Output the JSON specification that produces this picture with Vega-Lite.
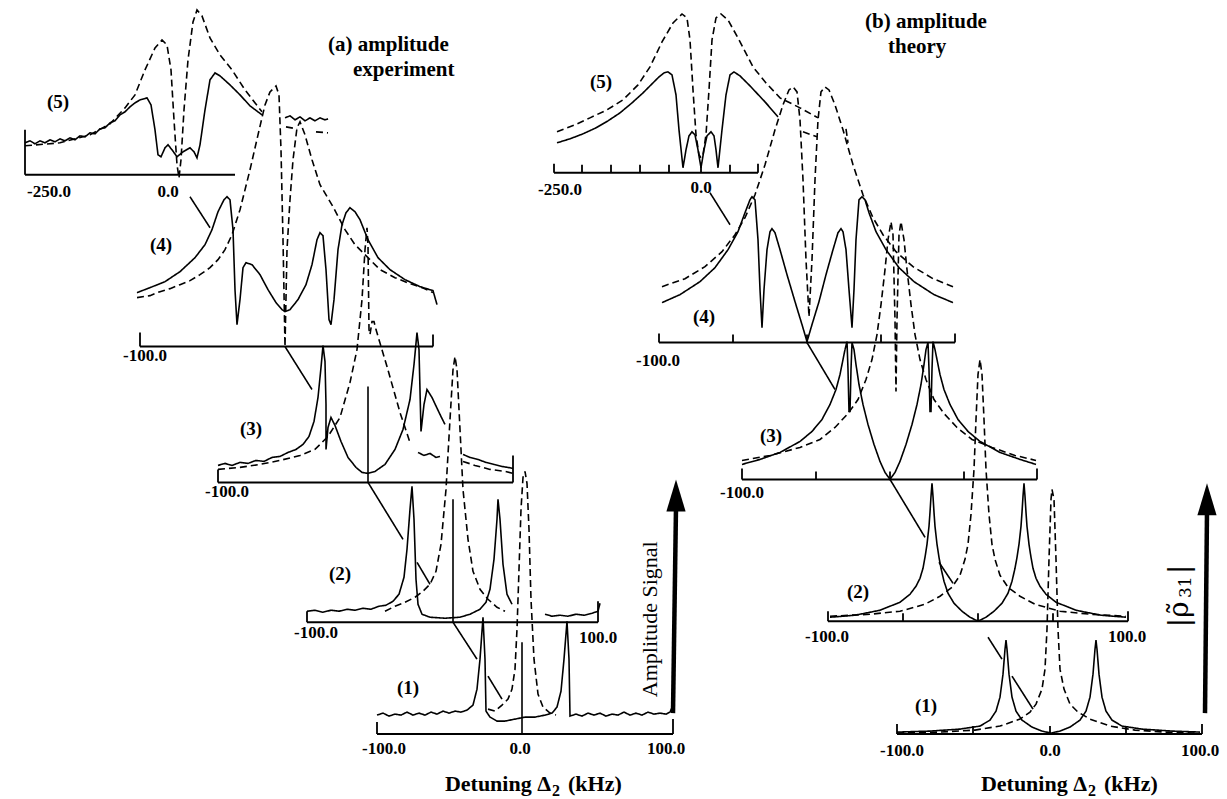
{
"$schema":"https://vega.github.io/schema/vega-lite/v6.json",
"width":1227,"height":799,
"autosize":{"type":"fit","contains":"padding"},
"padding":0,
"background":"white",
"config":{"view":{"stroke":null}},
"encoding":{
 "x":{"field":"x","type":"quantitative","scale":{"domain":[0,1227]},"axis":null},
 "y":{"field":"y","type":"quantitative","scale":{"domain":[0,799],"reverse":true},"axis":null}
},
"datasets":{
"curves":[
{"s":"a5s","k":"solid","x":25,"y":143},{"s":"a5s","k":"solid","x":30,"y":141},{"s":"a5s","k":"solid","x":35,"y":144},{"s":"a5s","k":"solid","x":40,"y":141},{"s":"a5s","k":"solid","x":45,"y":143},{"s":"a5s","k":"solid","x":50,"y":140},{"s":"a5s","k":"solid","x":55,"y":142},{"s":"a5s","k":"solid","x":60,"y":139},{"s":"a5s","k":"solid","x":65,"y":141},{"s":"a5s","k":"solid","x":70,"y":138},{"s":"a5s","k":"solid","x":75,"y":140},{"s":"a5s","k":"solid","x":80,"y":136},{"s":"a5s","k":"solid","x":85,"y":137},{"s":"a5s","k":"solid","x":90,"y":133},{"s":"a5s","k":"solid","x":95,"y":134},{"s":"a5s","k":"solid","x":100,"y":129},{"s":"a5s","k":"solid","x":105,"y":128},{"s":"a5s","k":"solid","x":110,"y":123},{"s":"a5s","k":"solid","x":115,"y":121},{"s":"a5s","k":"solid","x":120,"y":115},{"s":"a5s","k":"solid","x":125,"y":112},{"s":"a5s","k":"solid","x":130,"y":107},{"s":"a5s","k":"solid","x":135,"y":103},{"s":"a5s","k":"solid","x":140,"y":100},{"s":"a5s","k":"solid","x":147,"y":98},{"s":"a5s","k":"solid","x":151,"y":105},{"s":"a5s","k":"solid","x":155,"y":130},{"s":"a5s","k":"solid","x":158,"y":155},{"s":"a5s","k":"solid","x":161,"y":157},{"s":"a5s","k":"solid","x":165,"y":148},{"s":"a5s","k":"solid","x":168,"y":145},{"s":"a5s","k":"solid","x":172,"y":150},{"s":"a5s","k":"solid","x":177,"y":157},{"s":"a5s","k":"solid","x":183,"y":152},{"s":"a5s","k":"solid","x":190,"y":148},{"s":"a5s","k":"solid","x":194,"y":152},{"s":"a5s","k":"solid","x":197,"y":158},{"s":"a5s","k":"solid","x":200,"y":145},{"s":"a5s","k":"solid","x":205,"y":110},{"s":"a5s","k":"solid","x":210,"y":80},{"s":"a5s","k":"solid","x":215,"y":73},{"s":"a5s","k":"solid","x":220,"y":76},{"s":"a5s","k":"solid","x":230,"y":85},{"s":"a5s","k":"solid","x":240,"y":95},{"s":"a5s","k":"solid","x":250,"y":106},{"s":"a5s","k":"solid","x":262,"y":115},
{"s":"a5d","k":"dashed","x":25,"y":146},{"s":"a5d","k":"dashed","x":60,"y":143},{"s":"a5d","k":"dashed","x":90,"y":135},{"s":"a5d","k":"dashed","x":110,"y":124},{"s":"a5d","k":"dashed","x":125,"y":108},{"s":"a5d","k":"dashed","x":135,"y":95},{"s":"a5d","k":"dashed","x":145,"y":70},{"s":"a5d","k":"dashed","x":155,"y":48},{"s":"a5d","k":"dashed","x":162,"y":40},{"s":"a5d","k":"dashed","x":167,"y":45},{"s":"a5d","k":"dashed","x":171,"y":70},{"s":"a5d","k":"dashed","x":174,"y":120},{"s":"a5d","k":"dashed","x":177,"y":165},{"s":"a5d","k":"dashed","x":179,"y":178},{"s":"a5d","k":"dashed","x":181,"y":160},{"s":"a5d","k":"dashed","x":184,"y":110},{"s":"a5d","k":"dashed","x":188,"y":60},{"s":"a5d","k":"dashed","x":193,"y":22},{"s":"a5d","k":"dashed","x":197,"y":10},{"s":"a5d","k":"dashed","x":202,"y":16},{"s":"a5d","k":"dashed","x":210,"y":38},{"s":"a5d","k":"dashed","x":220,"y":55},{"s":"a5d","k":"dashed","x":232,"y":70},{"s":"a5d","k":"dashed","x":245,"y":90},{"s":"a5d","k":"dashed","x":262,"y":112},
{"s":"a5t","k":"solid","x":285,"y":118},{"s":"a5t","k":"solid","x":290,"y":116},{"s":"a5t","k":"solid","x":295,"y":120},{"s":"a5t","k":"solid","x":300,"y":117},{"s":"a5t","k":"solid","x":305,"y":121},{"s":"a5t","k":"solid","x":310,"y":118},{"s":"a5t","k":"solid","x":315,"y":121},{"s":"a5t","k":"solid","x":320,"y":118},{"s":"a5t","k":"solid","x":325,"y":120},{"s":"a5t","k":"solid","x":328,"y":119},
{"s":"a5u","k":"dashed","x":286,"y":127},{"s":"a5u","k":"dashed","x":297,"y":129},
{"s":"a5v","k":"dashed","x":316,"y":132},{"s":"a5v","k":"dashed","x":328,"y":133},
{"s":"a4s","k":"solid","x":137,"y":293},{"s":"a4s","k":"solid","x":150,"y":288},{"s":"a4s","k":"solid","x":165,"y":282},{"s":"a4s","k":"solid","x":180,"y":272},{"s":"a4s","k":"solid","x":195,"y":258},{"s":"a4s","k":"solid","x":205,"y":245},{"s":"a4s","k":"solid","x":212,"y":230},{"s":"a4s","k":"solid","x":218,"y":212},{"s":"a4s","k":"solid","x":224,"y":200},{"s":"a4s","k":"solid","x":227,"y":197},{"s":"a4s","k":"solid","x":230,"y":200},{"s":"a4s","k":"solid","x":233,"y":230},{"s":"a4s","k":"solid","x":235,"y":290},{"s":"a4s","k":"solid","x":237,"y":325},{"s":"a4s","k":"solid","x":240,"y":300},{"s":"a4s","k":"solid","x":243,"y":268},{"s":"a4s","k":"solid","x":246,"y":263},{"s":"a4s","k":"solid","x":252,"y":265},{"s":"a4s","k":"solid","x":260,"y":275},{"s":"a4s","k":"solid","x":268,"y":290},{"s":"a4s","k":"solid","x":276,"y":303},{"s":"a4s","k":"solid","x":282,"y":310},{"s":"a4s","k":"solid","x":285,"y":312},{"s":"a4s","k":"solid","x":290,"y":310},{"s":"a4s","k":"solid","x":298,"y":300},{"s":"a4s","k":"solid","x":306,"y":285},{"s":"a4s","k":"solid","x":312,"y":265},{"s":"a4s","k":"solid","x":317,"y":240},{"s":"a4s","k":"solid","x":320,"y":233},{"s":"a4s","k":"solid","x":323,"y":236},{"s":"a4s","k":"solid","x":326,"y":270},{"s":"a4s","k":"solid","x":329,"y":320},{"s":"a4s","k":"solid","x":331,"y":325},{"s":"a4s","k":"solid","x":334,"y":300},{"s":"a4s","k":"solid","x":338,"y":250},{"s":"a4s","k":"solid","x":342,"y":225},{"s":"a4s","k":"solid","x":346,"y":213},{"s":"a4s","k":"solid","x":350,"y":208},{"s":"a4s","k":"solid","x":355,"y":212},{"s":"a4s","k":"solid","x":360,"y":220},{"s":"a4s","k":"solid","x":368,"y":240},{"s":"a4s","k":"solid","x":378,"y":258},{"s":"a4s","k":"solid","x":390,"y":270},{"s":"a4s","k":"solid","x":405,"y":280},{"s":"a4s","k":"solid","x":420,"y":287},{"s":"a4s","k":"solid","x":433,"y":291},{"s":"a4s","k":"solid","x":437,"y":305},
{"s":"a4d","k":"dashed","x":137,"y":298},{"s":"a4d","k":"dashed","x":150,"y":296},{"s":"a4d","k":"dashed","x":160,"y":292},{"s":"a4d","k":"dashed","x":170,"y":289},{"s":"a4d","k":"dashed","x":180,"y":285},{"s":"a4d","k":"dashed","x":190,"y":281},{"s":"a4d","k":"dashed","x":200,"y":275},{"s":"a4d","k":"dashed","x":210,"y":268},{"s":"a4d","k":"dashed","x":218,"y":260},{"s":"a4d","k":"dashed","x":225,"y":250},{"s":"a4d","k":"dashed","x":232,"y":235},{"s":"a4d","k":"dashed","x":240,"y":210},{"s":"a4d","k":"dashed","x":250,"y":170},{"s":"a4d","k":"dashed","x":258,"y":135},{"s":"a4d","k":"dashed","x":265,"y":105},{"s":"a4d","k":"dashed","x":270,"y":92},{"s":"a4d","k":"dashed","x":276,"y":86},{"s":"a4d","k":"dashed","x":279,"y":95},{"s":"a4d","k":"dashed","x":281,"y":150},{"s":"a4d","k":"dashed","x":283,"y":240},{"s":"a4d","k":"dashed","x":285,"y":347},{"s":"a4d","k":"dashed","x":287,"y":250},{"s":"a4d","k":"dashed","x":290,"y":200},{"s":"a4d","k":"dashed","x":293,"y":160},{"s":"a4d","k":"dashed","x":297,"y":128},{"s":"a4d","k":"dashed","x":300,"y":122},{"s":"a4d","k":"dashed","x":305,"y":135},{"s":"a4d","k":"dashed","x":312,"y":160},{"s":"a4d","k":"dashed","x":320,"y":185},{"s":"a4d","k":"dashed","x":333,"y":207},{"s":"a4d","k":"dashed","x":345,"y":230},{"s":"a4d","k":"dashed","x":355,"y":245},{"s":"a4d","k":"dashed","x":368,"y":258},{"s":"a4d","k":"dashed","x":380,"y":270},{"s":"a4d","k":"dashed","x":395,"y":278},{"s":"a4d","k":"dashed","x":410,"y":284},{"s":"a4d","k":"dashed","x":422,"y":288},{"s":"a4d","k":"dashed","x":433,"y":293},
{"s":"a3s","k":"solid","x":218,"y":466},{"s":"a3s","k":"solid","x":225,"y":464},{"s":"a3s","k":"solid","x":232,"y":466},{"s":"a3s","k":"solid","x":240,"y":463},{"s":"a3s","k":"solid","x":248,"y":464},{"s":"a3s","k":"solid","x":256,"y":461},{"s":"a3s","k":"solid","x":264,"y":462},{"s":"a3s","k":"solid","x":272,"y":458},{"s":"a3s","k":"solid","x":280,"y":457},{"s":"a3s","k":"solid","x":288,"y":453},{"s":"a3s","k":"solid","x":296,"y":450},{"s":"a3s","k":"solid","x":303,"y":445},{"s":"a3s","k":"solid","x":309,"y":437},{"s":"a3s","k":"solid","x":314,"y":422},{"s":"a3s","k":"solid","x":318,"y":398},{"s":"a3s","k":"solid","x":321,"y":368},{"s":"a3s","k":"solid","x":323,"y":346},{"s":"a3s","k":"solid","x":325,"y":362},{"s":"a3s","k":"solid","x":326,"y":405},{"s":"a3s","k":"solid","x":326,"y":450},{"s":"a3s","k":"solid","x":328,"y":428},{"s":"a3s","k":"solid","x":331,"y":418},{"s":"a3s","k":"solid","x":335,"y":426},{"s":"a3s","k":"solid","x":341,"y":442},{"s":"a3s","k":"solid","x":348,"y":458},{"s":"a3s","k":"solid","x":356,"y":468},{"s":"a3s","k":"solid","x":362,"y":473},{"s":"a3s","k":"solid","x":368,"y":474},{"s":"a3s","k":"solid","x":375,"y":472},{"s":"a3s","k":"solid","x":385,"y":465},{"s":"a3s","k":"solid","x":395,"y":450},{"s":"a3s","k":"solid","x":403,"y":430},{"s":"a3s","k":"solid","x":410,"y":400},{"s":"a3s","k":"solid","x":414,"y":365},{"s":"a3s","k":"solid","x":417,"y":333},{"s":"a3s","k":"solid","x":419,"y":350},{"s":"a3s","k":"solid","x":421,"y":432},{"s":"a3s","k":"solid","x":424,"y":405},{"s":"a3s","k":"solid","x":427,"y":390},{"s":"a3s","k":"solid","x":432,"y":398},{"s":"a3s","k":"solid","x":440,"y":415},{"s":"a3s","k":"solid","x":445,"y":425},
{"s":"a3t","k":"solid","x":418,"y":453},{"s":"a3t","k":"solid","x":424,"y":456},{"s":"a3t","k":"solid","x":430,"y":454},{"s":"a3t","k":"solid","x":436,"y":458},{"s":"a3t","k":"solid","x":440,"y":457},
{"s":"a3u","k":"solid","x":463,"y":455},{"s":"a3u","k":"solid","x":470,"y":458},{"s":"a3u","k":"solid","x":478,"y":460},{"s":"a3u","k":"solid","x":486,"y":463},{"s":"a3u","k":"solid","x":494,"y":465},{"s":"a3u","k":"solid","x":502,"y":467},{"s":"a3u","k":"solid","x":508,"y":468},{"s":"a3u","k":"solid","x":513,"y":469},
{"s":"a3v","k":"dashed","x":463,"y":462},{"s":"a3v","k":"dashed","x":475,"y":466},{"s":"a3v","k":"dashed","x":490,"y":470},{"s":"a3v","k":"dashed","x":505,"y":472},{"s":"a3v","k":"dashed","x":513,"y":474},
{"s":"a3d","k":"dashed","x":218,"y":470},{"s":"a3d","k":"dashed","x":240,"y":468},{"s":"a3d","k":"dashed","x":260,"y":465},{"s":"a3d","k":"dashed","x":280,"y":461},{"s":"a3d","k":"dashed","x":300,"y":456},{"s":"a3d","k":"dashed","x":315,"y":450},{"s":"a3d","k":"dashed","x":328,"y":437},{"s":"a3d","k":"dashed","x":340,"y":418},{"s":"a3d","k":"dashed","x":350,"y":383},{"s":"a3d","k":"dashed","x":357,"y":350},{"s":"a3d","k":"dashed","x":362,"y":300},{"s":"a3d","k":"dashed","x":365,"y":250},{"s":"a3d","k":"dashed","x":367,"y":228},{"s":"a3d","k":"dashed","x":368,"y":245},{"s":"a3d","k":"dashed","x":369,"y":330},{"s":"a3d","k":"dashed","x":370,"y":335},{"s":"a3d","k":"dashed","x":372,"y":322},{"s":"a3d","k":"dashed","x":374,"y":322},{"s":"a3d","k":"dashed","x":376,"y":330},{"s":"a3d","k":"dashed","x":387,"y":367},{"s":"a3d","k":"dashed","x":400,"y":413},{"s":"a3d","k":"dashed","x":410,"y":443},
{"s":"a2s","k":"solid","x":307,"y":612},{"s":"a2s","k":"solid","x":315,"y":611},{"s":"a2s","k":"solid","x":323,"y":613},{"s":"a2s","k":"solid","x":331,"y":611},{"s":"a2s","k":"solid","x":339,"y":612},{"s":"a2s","k":"solid","x":347,"y":610},{"s":"a2s","k":"solid","x":355,"y":611},{"s":"a2s","k":"solid","x":363,"y":609},{"s":"a2s","k":"solid","x":371,"y":610},{"s":"a2s","k":"solid","x":379,"y":607},{"s":"a2s","k":"solid","x":386,"y":606},{"s":"a2s","k":"solid","x":393,"y":602},{"s":"a2s","k":"solid","x":399,"y":595},{"s":"a2s","k":"solid","x":404,"y":578},{"s":"a2s","k":"solid","x":407,"y":550},{"s":"a2s","k":"solid","x":410,"y":510},{"s":"a2s","k":"solid","x":412,"y":487},{"s":"a2s","k":"solid","x":414,"y":520},{"s":"a2s","k":"solid","x":416,"y":580},{"s":"a2s","k":"solid","x":418,"y":605},{"s":"a2s","k":"solid","x":422,"y":615},{"s":"a2s","k":"solid","x":430,"y":618},{"s":"a2s","k":"solid","x":445,"y":619},{"s":"a2s","k":"solid","x":460,"y":618},{"s":"a2s","k":"solid","x":470,"y":615},{"s":"a2s","k":"solid","x":480,"y":610},{"s":"a2s","k":"solid","x":486,"y":603},{"s":"a2s","k":"solid","x":490,"y":590},{"s":"a2s","k":"solid","x":494,"y":560},{"s":"a2s","k":"solid","x":497,"y":520},{"s":"a2s","k":"solid","x":498,"y":500},{"s":"a2s","k":"solid","x":500,"y":520},{"s":"a2s","k":"solid","x":503,"y":565},{"s":"a2s","k":"solid","x":507,"y":595},{"s":"a2s","k":"solid","x":512,"y":605},
{"s":"a2t","k":"solid","x":545,"y":615},{"s":"a2t","k":"solid","x":552,"y":617},{"s":"a2t","k":"solid","x":560,"y":616},{"s":"a2t","k":"solid","x":568,"y":617},{"s":"a2t","k":"solid","x":576,"y":615},{"s":"a2t","k":"solid","x":584,"y":616},{"s":"a2t","k":"solid","x":592,"y":614},{"s":"a2t","k":"solid","x":598,"y":612},{"s":"a2t","k":"solid","x":600,"y":604},
{"s":"a2d","k":"dashed","x":385,"y":612},{"s":"a2d","k":"dashed","x":395,"y":607},{"s":"a2d","k":"dashed","x":405,"y":603},{"s":"a2d","k":"dashed","x":415,"y":598},{"s":"a2d","k":"dashed","x":423,"y":592},{"s":"a2d","k":"dashed","x":430,"y":585},{"s":"a2d","k":"dashed","x":436,"y":572},{"s":"a2d","k":"dashed","x":441,"y":545},{"s":"a2d","k":"dashed","x":446,"y":490},{"s":"a2d","k":"dashed","x":450,"y":420},{"s":"a2d","k":"dashed","x":453,"y":370},{"s":"a2d","k":"dashed","x":455,"y":357},{"s":"a2d","k":"dashed","x":457,"y":370},{"s":"a2d","k":"dashed","x":460,"y":430},{"s":"a2d","k":"dashed","x":463,"y":490},{"s":"a2d","k":"dashed","x":468,"y":540},{"s":"a2d","k":"dashed","x":473,"y":572},{"s":"a2d","k":"dashed","x":480,"y":590},{"s":"a2d","k":"dashed","x":488,"y":600},{"s":"a2d","k":"dashed","x":497,"y":608},{"s":"a2d","k":"dashed","x":505,"y":612},
{"s":"a1s","k":"solid","x":377,"y":716},{"s":"a1s","k":"solid","x":383,"y":714},{"s":"a1s","k":"solid","x":389,"y":717},{"s":"a1s","k":"solid","x":395,"y":715},{"s":"a1s","k":"solid","x":401,"y":716},{"s":"a1s","k":"solid","x":407,"y":713},{"s":"a1s","k":"solid","x":413,"y":716},{"s":"a1s","k":"solid","x":419,"y":714},{"s":"a1s","k":"solid","x":425,"y":716},{"s":"a1s","k":"solid","x":431,"y":713},{"s":"a1s","k":"solid","x":437,"y":715},{"s":"a1s","k":"solid","x":443,"y":712},{"s":"a1s","k":"solid","x":449,"y":714},{"s":"a1s","k":"solid","x":455,"y":712},{"s":"a1s","k":"solid","x":461,"y":713},{"s":"a1s","k":"solid","x":467,"y":711},{"s":"a1s","k":"solid","x":473,"y":706},{"s":"a1s","k":"solid","x":477,"y":690},{"s":"a1s","k":"solid","x":480,"y":660},{"s":"a1s","k":"solid","x":483,"y":618},{"s":"a1s","k":"solid","x":485,"y":660},{"s":"a1s","k":"solid","x":486,"y":712},{"s":"a1s","k":"solid","x":490,"y":718},{"s":"a1s","k":"solid","x":497,"y":722},{"s":"a1s","k":"solid","x":505,"y":722},{"s":"a1s","k":"solid","x":515,"y":720},{"s":"a1s","k":"solid","x":525,"y":718},{"s":"a1s","k":"solid","x":535,"y":718},{"s":"a1s","k":"solid","x":545,"y":716},{"s":"a1s","k":"solid","x":552,"y":714},{"s":"a1s","k":"solid","x":557,"y":708},{"s":"a1s","k":"solid","x":561,"y":692},{"s":"a1s","k":"solid","x":564,"y":660},{"s":"a1s","k":"solid","x":567,"y":622},{"s":"a1s","k":"solid","x":569,"y":660},{"s":"a1s","k":"solid","x":570,"y":717},{"s":"a1s","k":"solid","x":576,"y":715},{"s":"a1s","k":"solid","x":582,"y":717},{"s":"a1s","k":"solid","x":588,"y":714},{"s":"a1s","k":"solid","x":594,"y":716},{"s":"a1s","k":"solid","x":600,"y":714},{"s":"a1s","k":"solid","x":606,"y":717},{"s":"a1s","k":"solid","x":612,"y":715},{"s":"a1s","k":"solid","x":618,"y":716},{"s":"a1s","k":"solid","x":624,"y":713},{"s":"a1s","k":"solid","x":630,"y":716},{"s":"a1s","k":"solid","x":636,"y":714},{"s":"a1s","k":"solid","x":642,"y":716},{"s":"a1s","k":"solid","x":648,"y":713},{"s":"a1s","k":"solid","x":654,"y":715},{"s":"a1s","k":"solid","x":660,"y":714},{"s":"a1s","k":"solid","x":666,"y":715},{"s":"a1s","k":"solid","x":670,"y":713},{"s":"a1s","k":"solid","x":673,"y":706},
{"s":"a1d","k":"dashed","x":488,"y":710},{"s":"a1d","k":"dashed","x":495,"y":712},{"s":"a1d","k":"dashed","x":502,"y":706},{"s":"a1d","k":"dashed","x":508,"y":700},{"s":"a1d","k":"dashed","x":512,"y":690},{"s":"a1d","k":"dashed","x":515,"y":670},{"s":"a1d","k":"dashed","x":517,"y":630},{"s":"a1d","k":"dashed","x":519,"y":570},{"s":"a1d","k":"dashed","x":521,"y":510},{"s":"a1d","k":"dashed","x":523,"y":478},{"s":"a1d","k":"dashed","x":525,"y":472},{"s":"a1d","k":"dashed","x":527,"y":484},{"s":"a1d","k":"dashed","x":529,"y":530},{"s":"a1d","k":"dashed","x":531,"y":600},{"s":"a1d","k":"dashed","x":534,"y":660},{"s":"a1d","k":"dashed","x":538,"y":695},{"s":"a1d","k":"dashed","x":543,"y":708},{"s":"a1d","k":"dashed","x":550,"y":714},{"s":"a1d","k":"dashed","x":556,"y":716},
{"s":"a3z","k":"solid","x":368,"y":387},{"s":"a3z","k":"solid","x":368,"y":483},
{"s":"a2z","k":"solid","x":453,"y":500},{"s":"a2z","k":"solid","x":453,"y":623},
{"s":"a1z","k":"solid","x":522,"y":643},{"s":"a1z","k":"solid","x":522,"y":735},
{"s":"c1","k":"solid","x":190,"y":197},{"s":"c1","k":"solid","x":210,"y":228},
{"s":"c2","k":"solid","x":285,"y":347},{"s":"c2","k":"solid","x":312,"y":390},
{"s":"c3","k":"solid","x":368,"y":483},{"s":"c3","k":"solid","x":403,"y":540},
{"s":"c4","k":"solid","x":417,"y":563},{"s":"c4","k":"solid","x":430,"y":585},
{"s":"c5","k":"solid","x":453,"y":623},{"s":"c5","k":"solid","x":477,"y":660},
{"s":"c6","k":"solid","x":488,"y":677},{"s":"c6","k":"solid","x":502,"y":700},
{"s":"c7","k":"solid","x":710,"y":193},{"s":"c7","k":"solid","x":730,"y":225},
{"s":"c8","k":"solid","x":807,"y":343},{"s":"c8","k":"solid","x":835,"y":390},
{"s":"c9","k":"solid","x":890,"y":480},{"s":"c9","k":"solid","x":925,"y":538},
{"s":"c10","k":"solid","x":939,"y":563},{"s":"c10","k":"solid","x":953,"y":584},
{"s":"c11","k":"solid","x":988,"y":638},{"s":"c11","k":"solid","x":1002,"y":660},
{"s":"c12","k":"solid","x":1012,"y":677},{"s":"c12","k":"solid","x":1033,"y":710},
{"s":"b5s","k":"solid","x":557,"y":143},{"s":"b5s","k":"solid","x":570,"y":139},{"s":"b5s","k":"solid","x":583,"y":134},{"s":"b5s","k":"solid","x":596,"y":128},{"s":"b5s","k":"solid","x":608,"y":121},{"s":"b5s","k":"solid","x":620,"y":113},{"s":"b5s","k":"solid","x":632,"y":103},{"s":"b5s","k":"solid","x":643,"y":93},{"s":"b5s","k":"solid","x":652,"y":84},{"s":"b5s","k":"solid","x":659,"y":77},{"s":"b5s","k":"solid","x":664,"y":73},{"s":"b5s","k":"solid","x":668,"y":72},{"s":"b5s","k":"solid","x":672,"y":75},{"s":"b5s","k":"solid","x":676,"y":95},{"s":"b5s","k":"solid","x":679,"y":130},{"s":"b5s","k":"solid","x":683,"y":168},{"s":"b5s","k":"solid","x":686,"y":150},{"s":"b5s","k":"solid","x":689,"y":136},{"s":"b5s","k":"solid","x":692,"y":132},{"s":"b5s","k":"solid","x":695,"y":135},{"s":"b5s","k":"solid","x":698,"y":150},{"s":"b5s","k":"solid","x":701,"y":168},{"s":"b5s","k":"solid","x":704,"y":150},{"s":"b5s","k":"solid","x":707,"y":136},{"s":"b5s","k":"solid","x":711,"y":132},{"s":"b5s","k":"solid","x":714,"y":136},{"s":"b5s","k":"solid","x":716,"y":150},{"s":"b5s","k":"solid","x":718,"y":168},{"s":"b5s","k":"solid","x":722,"y":130},{"s":"b5s","k":"solid","x":726,"y":95},{"s":"b5s","k":"solid","x":730,"y":75},{"s":"b5s","k":"solid","x":734,"y":72},{"s":"b5s","k":"solid","x":740,"y":76},{"s":"b5s","k":"solid","x":750,"y":86},{"s":"b5s","k":"solid","x":765,"y":102},{"s":"b5s","k":"solid","x":778,"y":117},
{"s":"b5d","k":"dashed","x":557,"y":132},{"s":"b5d","k":"dashed","x":575,"y":125},{"s":"b5d","k":"dashed","x":590,"y":118},{"s":"b5d","k":"dashed","x":607,"y":110},{"s":"b5d","k":"dashed","x":623,"y":100},{"s":"b5d","k":"dashed","x":638,"y":85},{"s":"b5d","k":"dashed","x":650,"y":67},{"s":"b5d","k":"dashed","x":662,"y":42},{"s":"b5d","k":"dashed","x":673,"y":23},{"s":"b5d","k":"dashed","x":682,"y":14},{"s":"b5d","k":"dashed","x":687,"y":18},{"s":"b5d","k":"dashed","x":690,"y":40},{"s":"b5d","k":"dashed","x":693,"y":90},{"s":"b5d","k":"dashed","x":696,"y":135},{"s":"b5d","k":"dashed","x":699,"y":155},{"s":"b5d","k":"dashed","x":701,"y":158},{"s":"b5d","k":"dashed","x":703,"y":155},{"s":"b5d","k":"dashed","x":706,"y":135},{"s":"b5d","k":"dashed","x":709,"y":90},{"s":"b5d","k":"dashed","x":712,"y":40},{"s":"b5d","k":"dashed","x":716,"y":18},{"s":"b5d","k":"dashed","x":721,"y":14},{"s":"b5d","k":"dashed","x":728,"y":20},{"s":"b5d","k":"dashed","x":738,"y":38},{"s":"b5d","k":"dashed","x":753,"y":67},{"s":"b5d","k":"dashed","x":766,"y":83},{"s":"b5d","k":"dashed","x":780,"y":98},{"s":"b5d","k":"dashed","x":800,"y":108},{"s":"b5d","k":"dashed","x":818,"y":118},
{"s":"b5e","k":"dashed","x":803,"y":132},{"s":"b5e","k":"dashed","x":817,"y":137},
{"s":"b5f","k":"dashed","x":846,"y":129},{"s":"b5f","k":"dashed","x":848,"y":143},
{"s":"b4s","k":"solid","x":662,"y":303},{"s":"b4s","k":"solid","x":680,"y":295},{"s":"b4s","k":"solid","x":700,"y":282},{"s":"b4s","k":"solid","x":715,"y":268},{"s":"b4s","k":"solid","x":728,"y":250},{"s":"b4s","k":"solid","x":738,"y":232},{"s":"b4s","k":"solid","x":745,"y":213},{"s":"b4s","k":"solid","x":750,"y":200},{"s":"b4s","k":"solid","x":752,"y":197},{"s":"b4s","k":"solid","x":755,"y":200},{"s":"b4s","k":"solid","x":758,"y":240},{"s":"b4s","k":"solid","x":760,"y":290},{"s":"b4s","k":"solid","x":762,"y":328},{"s":"b4s","k":"solid","x":764,"y":290},{"s":"b4s","k":"solid","x":767,"y":250},{"s":"b4s","k":"solid","x":770,"y":232},{"s":"b4s","k":"solid","x":772,"y":229},{"s":"b4s","k":"solid","x":775,"y":233},{"s":"b4s","k":"solid","x":780,"y":250},{"s":"b4s","k":"solid","x":787,"y":275},{"s":"b4s","k":"solid","x":795,"y":302},{"s":"b4s","k":"solid","x":802,"y":325},{"s":"b4s","k":"solid","x":807,"y":342},{"s":"b4s","k":"solid","x":812,"y":325},{"s":"b4s","k":"solid","x":819,"y":302},{"s":"b4s","k":"solid","x":826,"y":275},{"s":"b4s","k":"solid","x":833,"y":250},{"s":"b4s","k":"solid","x":838,"y":233},{"s":"b4s","k":"solid","x":841,"y":229},{"s":"b4s","k":"solid","x":843,"y":232},{"s":"b4s","k":"solid","x":846,"y":250},{"s":"b4s","k":"solid","x":849,"y":290},{"s":"b4s","k":"solid","x":852,"y":328},{"s":"b4s","k":"solid","x":854,"y":290},{"s":"b4s","k":"solid","x":856,"y":240},{"s":"b4s","k":"solid","x":859,"y":200},{"s":"b4s","k":"solid","x":862,"y":197},{"s":"b4s","k":"solid","x":865,"y":200},{"s":"b4s","k":"solid","x":869,"y":213},{"s":"b4s","k":"solid","x":876,"y":232},{"s":"b4s","k":"solid","x":886,"y":250},{"s":"b4s","k":"solid","x":899,"y":268},{"s":"b4s","k":"solid","x":914,"y":282},{"s":"b4s","k":"solid","x":934,"y":295},{"s":"b4s","k":"solid","x":953,"y":303},
{"s":"b4d","k":"dashed","x":662,"y":287},{"s":"b4d","k":"dashed","x":685,"y":279},{"s":"b4d","k":"dashed","x":705,"y":267},{"s":"b4d","k":"dashed","x":722,"y":252},{"s":"b4d","k":"dashed","x":735,"y":235},{"s":"b4d","k":"dashed","x":745,"y":218},{"s":"b4d","k":"dashed","x":755,"y":195},{"s":"b4d","k":"dashed","x":765,"y":165},{"s":"b4d","k":"dashed","x":775,"y":130},{"s":"b4d","k":"dashed","x":783,"y":105},{"s":"b4d","k":"dashed","x":789,"y":90},{"s":"b4d","k":"dashed","x":793,"y":87},{"s":"b4d","k":"dashed","x":797,"y":92},{"s":"b4d","k":"dashed","x":800,"y":120},{"s":"b4d","k":"dashed","x":803,"y":180},{"s":"b4d","k":"dashed","x":806,"y":260},{"s":"b4d","k":"dashed","x":809,"y":317},{"s":"b4d","k":"dashed","x":812,"y":260},{"s":"b4d","k":"dashed","x":815,"y":180},{"s":"b4d","k":"dashed","x":818,"y":120},{"s":"b4d","k":"dashed","x":821,"y":92},{"s":"b4d","k":"dashed","x":825,"y":87},{"s":"b4d","k":"dashed","x":829,"y":90},{"s":"b4d","k":"dashed","x":835,"y":105},{"s":"b4d","k":"dashed","x":843,"y":130},{"s":"b4d","k":"dashed","x":853,"y":165},{"s":"b4d","k":"dashed","x":863,"y":195},{"s":"b4d","k":"dashed","x":873,"y":218},{"s":"b4d","k":"dashed","x":883,"y":235},{"s":"b4d","k":"dashed","x":896,"y":252},{"s":"b4d","k":"dashed","x":913,"y":267},{"s":"b4d","k":"dashed","x":933,"y":279},{"s":"b4d","k":"dashed","x":953,"y":287},
{"s":"b3s","k":"solid","x":742,"y":465},{"s":"b3s","k":"solid","x":760,"y":460},{"s":"b3s","k":"solid","x":780,"y":453},{"s":"b3s","k":"solid","x":800,"y":442},{"s":"b3s","k":"solid","x":812,"y":432},{"s":"b3s","k":"solid","x":822,"y":420},{"s":"b3s","k":"solid","x":830,"y":405},{"s":"b3s","k":"solid","x":836,"y":390},{"s":"b3s","k":"solid","x":840,"y":375},{"s":"b3s","k":"solid","x":843,"y":360},{"s":"b3s","k":"solid","x":845,"y":350},{"s":"b3s","k":"solid","x":847,"y":342},{"s":"b3s","k":"solid","x":848,"y":370},{"s":"b3s","k":"solid","x":849,"y":412},{"s":"b3s","k":"solid","x":850,"y":412},{"s":"b3s","k":"solid","x":851,"y":370},{"s":"b3s","k":"solid","x":852,"y":343},{"s":"b3s","k":"solid","x":854,"y":350},{"s":"b3s","k":"solid","x":856,"y":365},{"s":"b3s","k":"solid","x":859,"y":385},{"s":"b3s","k":"solid","x":863,"y":405},{"s":"b3s","k":"solid","x":868,"y":425},{"s":"b3s","k":"solid","x":874,"y":445},{"s":"b3s","k":"solid","x":880,"y":462},{"s":"b3s","k":"solid","x":885,"y":473},{"s":"b3s","k":"solid","x":890,"y":480},{"s":"b3s","k":"solid","x":895,"y":473},{"s":"b3s","k":"solid","x":900,"y":462},{"s":"b3s","k":"solid","x":906,"y":445},{"s":"b3s","k":"solid","x":912,"y":425},{"s":"b3s","k":"solid","x":917,"y":405},{"s":"b3s","k":"solid","x":921,"y":385},{"s":"b3s","k":"solid","x":924,"y":365},{"s":"b3s","k":"solid","x":926,"y":350},{"s":"b3s","k":"solid","x":928,"y":343},{"s":"b3s","k":"solid","x":929,"y":370},{"s":"b3s","k":"solid","x":930,"y":412},{"s":"b3s","k":"solid","x":931,"y":412},{"s":"b3s","k":"solid","x":932,"y":370},{"s":"b3s","k":"solid","x":933,"y":342},{"s":"b3s","k":"solid","x":935,"y":350},{"s":"b3s","k":"solid","x":937,"y":360},{"s":"b3s","k":"solid","x":940,"y":375},{"s":"b3s","k":"solid","x":944,"y":390},{"s":"b3s","k":"solid","x":950,"y":405},{"s":"b3s","k":"solid","x":958,"y":420},{"s":"b3s","k":"solid","x":968,"y":432},{"s":"b3s","k":"solid","x":980,"y":442},{"s":"b3s","k":"solid","x":1000,"y":453},{"s":"b3s","k":"solid","x":1020,"y":460},{"s":"b3s","k":"solid","x":1036,"y":465},
{"s":"b3d","k":"dashed","x":742,"y":461},{"s":"b3d","k":"dashed","x":770,"y":456},{"s":"b3d","k":"dashed","x":800,"y":448},{"s":"b3d","k":"dashed","x":820,"y":440},{"s":"b3d","k":"dashed","x":835,"y":428},{"s":"b3d","k":"dashed","x":848,"y":414},{"s":"b3d","k":"dashed","x":858,"y":400},{"s":"b3d","k":"dashed","x":866,"y":380},{"s":"b3d","k":"dashed","x":872,"y":360},{"s":"b3d","k":"dashed","x":877,"y":335},{"s":"b3d","k":"dashed","x":881,"y":305},{"s":"b3d","k":"dashed","x":885,"y":270},{"s":"b3d","k":"dashed","x":888,"y":240},{"s":"b3d","k":"dashed","x":891,"y":222},{"s":"b3d","k":"dashed","x":893,"y":235},{"s":"b3d","k":"dashed","x":895,"y":320},{"s":"b3d","k":"dashed","x":896,"y":392},{"s":"b3d","k":"dashed","x":897,"y":320},{"s":"b3d","k":"dashed","x":899,"y":235},{"s":"b3d","k":"dashed","x":901,"y":222},{"s":"b3d","k":"dashed","x":904,"y":240},{"s":"b3d","k":"dashed","x":907,"y":270},{"s":"b3d","k":"dashed","x":911,"y":305},{"s":"b3d","k":"dashed","x":915,"y":335},{"s":"b3d","k":"dashed","x":920,"y":360},{"s":"b3d","k":"dashed","x":926,"y":380},{"s":"b3d","k":"dashed","x":934,"y":400},{"s":"b3d","k":"dashed","x":944,"y":414},{"s":"b3d","k":"dashed","x":957,"y":428},{"s":"b3d","k":"dashed","x":972,"y":440},{"s":"b3d","k":"dashed","x":992,"y":448},{"s":"b3d","k":"dashed","x":1015,"y":456},{"s":"b3d","k":"dashed","x":1036,"y":461},
{"s":"b2s","k":"solid","x":830,"y":618},{"s":"b2s","k":"solid","x":855,"y":616},{"s":"b2s","k":"solid","x":880,"y":611},{"s":"b2s","k":"solid","x":900,"y":603},{"s":"b2s","k":"solid","x":910,"y":595},{"s":"b2s","k":"solid","x":916,"y":587},{"s":"b2s","k":"solid","x":920,"y":579},{"s":"b2s","k":"solid","x":923,"y":569},{"s":"b2s","k":"solid","x":925,"y":558},{"s":"b2s","k":"solid","x":927,"y":545},{"s":"b2s","k":"solid","x":929,"y":527},{"s":"b2s","k":"solid","x":930,"y":513},{"s":"b2s","k":"solid","x":931,"y":497},{"s":"b2s","k":"solid","x":932,"y":484},{"s":"b2s","k":"solid","x":933,"y":497},{"s":"b2s","k":"solid","x":934,"y":513},{"s":"b2s","k":"solid","x":935,"y":527},{"s":"b2s","k":"solid","x":937,"y":545},{"s":"b2s","k":"solid","x":939,"y":558},{"s":"b2s","k":"solid","x":941,"y":569},{"s":"b2s","k":"solid","x":944,"y":582},{"s":"b2s","k":"solid","x":948,"y":594},{"s":"b2s","k":"solid","x":954,"y":604},{"s":"b2s","k":"solid","x":962,"y":612},{"s":"b2s","k":"solid","x":970,"y":618},{"s":"b2s","k":"solid","x":978,"y":622},{"s":"b2s","k":"solid","x":986,"y":618},{"s":"b2s","k":"solid","x":994,"y":612},{"s":"b2s","k":"solid","x":1002,"y":604},{"s":"b2s","k":"solid","x":1008,"y":594},{"s":"b2s","k":"solid","x":1012,"y":582},{"s":"b2s","k":"solid","x":1015,"y":569},{"s":"b2s","k":"solid","x":1017,"y":558},{"s":"b2s","k":"solid","x":1019,"y":545},{"s":"b2s","k":"solid","x":1021,"y":527},{"s":"b2s","k":"solid","x":1022,"y":513},{"s":"b2s","k":"solid","x":1023,"y":497},{"s":"b2s","k":"solid","x":1024,"y":484},{"s":"b2s","k":"solid","x":1025,"y":497},{"s":"b2s","k":"solid","x":1026,"y":513},{"s":"b2s","k":"solid","x":1027,"y":527},{"s":"b2s","k":"solid","x":1029,"y":545},{"s":"b2s","k":"solid","x":1031,"y":558},{"s":"b2s","k":"solid","x":1033,"y":569},{"s":"b2s","k":"solid","x":1036,"y":579},{"s":"b2s","k":"solid","x":1040,"y":587},{"s":"b2s","k":"solid","x":1046,"y":595},{"s":"b2s","k":"solid","x":1056,"y":603},{"s":"b2s","k":"solid","x":1076,"y":611},{"s":"b2s","k":"solid","x":1101,"y":616},{"s":"b2s","k":"solid","x":1126,"y":618},
{"s":"b2d","k":"dashed","x":830,"y":617},{"s":"b2d","k":"dashed","x":870,"y":615},{"s":"b2d","k":"dashed","x":900,"y":612},{"s":"b2d","k":"dashed","x":925,"y":605},{"s":"b2d","k":"dashed","x":940,"y":597},{"s":"b2d","k":"dashed","x":952,"y":588},{"s":"b2d","k":"dashed","x":960,"y":576},{"s":"b2d","k":"dashed","x":965,"y":560},{"s":"b2d","k":"dashed","x":968,"y":545},{"s":"b2d","k":"dashed","x":971,"y":515},{"s":"b2d","k":"dashed","x":974,"y":470},{"s":"b2d","k":"dashed","x":976,"y":420},{"s":"b2d","k":"dashed","x":978,"y":375},{"s":"b2d","k":"dashed","x":980,"y":360},{"s":"b2d","k":"dashed","x":982,"y":375},{"s":"b2d","k":"dashed","x":984,"y":420},{"s":"b2d","k":"dashed","x":986,"y":470},{"s":"b2d","k":"dashed","x":989,"y":515},{"s":"b2d","k":"dashed","x":992,"y":545},{"s":"b2d","k":"dashed","x":995,"y":560},{"s":"b2d","k":"dashed","x":1000,"y":576},{"s":"b2d","k":"dashed","x":1008,"y":588},{"s":"b2d","k":"dashed","x":1020,"y":597},{"s":"b2d","k":"dashed","x":1035,"y":605},{"s":"b2d","k":"dashed","x":1060,"y":612},{"s":"b2d","k":"dashed","x":1090,"y":615},{"s":"b2d","k":"dashed","x":1126,"y":617},
{"s":"b1s","k":"solid","x":897,"y":733},{"s":"b1s","k":"solid","x":930,"y":732},{"s":"b1s","k":"solid","x":960,"y":730},{"s":"b1s","k":"solid","x":980,"y":727},{"s":"b1s","k":"solid","x":990,"y":721},{"s":"b1s","k":"solid","x":996,"y":712},{"s":"b1s","k":"solid","x":1000,"y":698},{"s":"b1s","k":"solid","x":1003,"y":675},{"s":"b1s","k":"solid","x":1005,"y":650},{"s":"b1s","k":"solid","x":1006,"y":641},{"s":"b1s","k":"solid","x":1007,"y":650},{"s":"b1s","k":"solid","x":1009,"y":675},{"s":"b1s","k":"solid","x":1012,"y":698},{"s":"b1s","k":"solid","x":1016,"y":712},{"s":"b1s","k":"solid","x":1022,"y":721},{"s":"b1s","k":"solid","x":1032,"y":728},{"s":"b1s","k":"solid","x":1042,"y":732},{"s":"b1s","k":"solid","x":1051,"y":734},{"s":"b1s","k":"solid","x":1060,"y":732},{"s":"b1s","k":"solid","x":1070,"y":728},{"s":"b1s","k":"solid","x":1080,"y":721},{"s":"b1s","k":"solid","x":1086,"y":712},{"s":"b1s","k":"solid","x":1090,"y":698},{"s":"b1s","k":"solid","x":1093,"y":675},{"s":"b1s","k":"solid","x":1095,"y":650},{"s":"b1s","k":"solid","x":1096,"y":641},{"s":"b1s","k":"solid","x":1097,"y":650},{"s":"b1s","k":"solid","x":1099,"y":675},{"s":"b1s","k":"solid","x":1102,"y":698},{"s":"b1s","k":"solid","x":1106,"y":712},{"s":"b1s","k":"solid","x":1112,"y":721},{"s":"b1s","k":"solid","x":1122,"y":727},{"s":"b1s","k":"solid","x":1142,"y":730},{"s":"b1s","k":"solid","x":1172,"y":732},{"s":"b1s","k":"solid","x":1200,"y":733},
{"s":"b1d","k":"dashed","x":897,"y":734},{"s":"b1d","k":"dashed","x":940,"y":733},{"s":"b1d","k":"dashed","x":975,"y":731},{"s":"b1d","k":"dashed","x":1000,"y":727},{"s":"b1d","k":"dashed","x":1020,"y":720},{"s":"b1d","k":"dashed","x":1030,"y":713},{"s":"b1d","k":"dashed","x":1036,"y":705},{"s":"b1d","k":"dashed","x":1042,"y":690},{"s":"b1d","k":"dashed","x":1045,"y":670},{"s":"b1d","k":"dashed","x":1047,"y":630},{"s":"b1d","k":"dashed","x":1049,"y":560},{"s":"b1d","k":"dashed","x":1051,"y":500},{"s":"b1d","k":"dashed","x":1052,"y":490},{"s":"b1d","k":"dashed","x":1054,"y":500},{"s":"b1d","k":"dashed","x":1056,"y":560},{"s":"b1d","k":"dashed","x":1058,"y":630},{"s":"b1d","k":"dashed","x":1060,"y":670},{"s":"b1d","k":"dashed","x":1064,"y":690},{"s":"b1d","k":"dashed","x":1070,"y":705},{"s":"b1d","k":"dashed","x":1078,"y":713},{"s":"b1d","k":"dashed","x":1090,"y":720},{"s":"b1d","k":"dashed","x":1110,"y":727},{"s":"b1d","k":"dashed","x":1135,"y":731},{"s":"b1d","k":"dashed","x":1165,"y":733},{"s":"b1d","k":"dashed","x":1200,"y":734}
],
"axes":[
{"s":"a5","x":25,"y":175},{"s":"a5","x":235,"y":175},
{"s":"a4","x":140,"y":347},{"s":"a4","x":433,"y":347},
{"s":"a3","x":218,"y":483},{"s":"a3","x":513,"y":483},
{"s":"a2","x":307,"y":623},{"s":"a2","x":598,"y":623},
{"s":"a1","x":377,"y":735},{"s":"a1","x":673,"y":735},
{"s":"b5","x":554,"y":173},{"s":"b5","x":758,"y":173},
{"s":"b4","x":659,"y":343},{"s":"b4","x":955,"y":343},
{"s":"b3","x":742,"y":480},{"s":"b3","x":1037,"y":480},
{"s":"b2","x":828,"y":622},{"s":"b2","x":1128,"y":622},
{"s":"b1","x":897,"y":735},{"s":"b1","x":1202,"y":735}
],
"ticks":[
{"x":25,"y":130,"y2":175},
{"x":140,"y":333,"y2":347},{"x":433,"y":335,"y2":347},
{"x":218,"y":470,"y2":483},{"x":513,"y":456,"y2":483},
{"x":307,"y":612,"y2":623},{"x":598,"y":602,"y2":623},
{"x":377,"y":723,"y2":735},{"x":673,"y":720,"y2":735},
{"x":554,"y":164,"y2":173},{"x":582,"y":165,"y2":173},{"x":611,"y":165,"y2":173},{"x":640,"y":165,"y2":173},{"x":669,"y":165,"y2":173},{"x":701,"y":165,"y2":173},{"x":730,"y":165,"y2":173},{"x":758,"y":164,"y2":173},
{"x":659,"y":334,"y2":343},{"x":733,"y":335,"y2":343},{"x":807,"y":335,"y2":343},{"x":881,"y":335,"y2":343},{"x":955,"y":334,"y2":343},
{"x":742,"y":469,"y2":480},{"x":816,"y":472,"y2":480},{"x":890,"y":472,"y2":480},{"x":964,"y":472,"y2":480},{"x":1037,"y":469,"y2":480},
{"x":828,"y":612,"y2":622},{"x":903,"y":614,"y2":622},{"x":978,"y":614,"y2":622},{"x":1053,"y":614,"y2":622},{"x":1128,"y":612,"y2":622},
{"x":897,"y":725,"y2":735},{"x":973,"y":727,"y2":735},{"x":1050,"y":727,"y2":735},{"x":1126,"y":727,"y2":735},{"x":1202,"y":725,"y2":735}
],
"arrows":[
{"s":"A","x":673,"y":714},{"s":"A","x":676,"y":508},
{"s":"B","x":1205,"y":714},{"s":"B","x":1207,"y":512}
],
"heads":[{"x":676,"y":496},{"x":1207,"y":500}],
"ticklabels":[
{"t":"-250.0","x":49,"y":192},{"t":"0.0","x":168,"y":192},{"t":"-100.0","x":145,"y":356},{"t":"-100.0","x":227,"y":493},{"t":"-100.0","x":316,"y":634},{"t":"100.0","x":598,"y":639},{"t":"-100.0","x":384,"y":750},{"t":"0.0","x":520,"y":750},{"t":"100.0","x":666,"y":750},
{"t":"-250.0","x":560,"y":190},{"t":"0.0","x":701,"y":188},{"t":"-100.0","x":658,"y":361},{"t":"-100.0","x":742,"y":494},{"t":"-100.0","x":827,"y":638},{"t":"100.0","x":1127,"y":638},{"t":"-100.0","x":902,"y":752},{"t":"0.0","x":1050,"y":752},{"t":"100.0","x":1200,"y":752}
],
"serieslabels":[
{"t":"(5)","x":58,"y":102},{"t":"(4)","x":161,"y":245},{"t":"(3)","x":251,"y":430},{"t":"(2)","x":340,"y":575},{"t":"(1)","x":408,"y":689},
{"t":"(5)","x":601,"y":82},{"t":"(4)","x":704,"y":317},{"t":"(3)","x":771,"y":437},{"t":"(2)","x":858,"y":593},{"t":"(1)","x":926,"y":707}
],
"titles":[
{"t":"(a) amplitude","x":328,"y":45},{"t":"experiment","x":353,"y":70},
{"t":"(b) amplitude","x":865,"y":22},{"t":"theory","x":888,"y":47}
],
"xmain":[{"t":"Detuning Δ","x":551,"y":785},{"t":"Detuning Δ","x":1087,"y":785}],
"xsub":[{"t":"2","x":556,"y":792},{"t":"2","x":1092,"y":792}],
"xunit":[{"t":"(kHz)","x":568,"y":785},{"t":"(kHz)","x":1104,"y":785}],
"ylab":[{"t":"Amplitude Signal","x":650,"y":620}],
"rho":[{"t":"|ρ̃","x":1180,"y":615}],
"rhosub":[{"t":"31","x":1186,"y":588}],
"rhobar":[{"t":"|","x":1180,"y":570}]
},
"layer":[
{"data":{"name":"axes"},"mark":{"type":"line","color":"black","strokeWidth":2},"encoding":{"detail":{"field":"s"}}},
{"data":{"name":"ticks"},"mark":{"type":"rule","color":"black","strokeWidth":1.8},"encoding":{"y2":{"field":"y2"}}},
{"data":{"name":"curves"},"mark":{"type":"line","color":"black","strokeWidth":1.6},"encoding":{"detail":{"field":"s"},"strokeDash":{"field":"k","type":"nominal","scale":{"domain":["solid","dashed"],"range":[[1,0],[7,4]]},"legend":null},"order":{"value":null}}},
{"data":{"name":"arrows"},"mark":{"type":"line","color":"black","strokeWidth":4.5},"encoding":{"detail":{"field":"s"}}},
{"data":{"name":"heads"},"mark":{"type":"point","shape":"M0,-1L0.6,1L-0.6,1Z","filled":true,"color":"black","opacity":1,"size":1024,"strokeWidth":0}},
{"data":{"name":"ticklabels"},"mark":{"type":"text","font":"Liberation Serif","fontWeight":"bold","fontSize":17,"baseline":"middle","align":"center","color":"black"},"encoding":{"text":{"field":"t"}}},
{"data":{"name":"serieslabels"},"mark":{"type":"text","font":"Liberation Serif","fontWeight":"bold","fontSize":19,"baseline":"middle","align":"center","color":"black"},"encoding":{"text":{"field":"t"}}},
{"data":{"name":"titles"},"mark":{"type":"text","font":"Liberation Serif","fontWeight":"bold","fontSize":21,"baseline":"middle","align":"left","color":"black"},"encoding":{"text":{"field":"t"}}},
{"data":{"name":"xmain"},"mark":{"type":"text","font":"Liberation Serif","fontWeight":"bold","fontSize":22,"baseline":"middle","align":"right","color":"black"},"encoding":{"text":{"field":"t"}}},
{"data":{"name":"xsub"},"mark":{"type":"text","font":"Liberation Serif","fontWeight":"bold","fontSize":16,"baseline":"middle","align":"center","color":"black"},"encoding":{"text":{"field":"t"}}},
{"data":{"name":"xunit"},"mark":{"type":"text","font":"Liberation Serif","fontWeight":"bold","fontSize":22,"baseline":"middle","align":"left","color":"black"},"encoding":{"text":{"field":"t"}}},
{"data":{"name":"ylab"},"mark":{"type":"text","font":"Liberation Serif","fontSize":22,"baseline":"middle","align":"center","angle":270,"color":"black"},"encoding":{"text":{"field":"t"}}},
{"data":{"name":"rho"},"mark":{"type":"text","font":"DejaVu Serif","fontSize":28,"baseline":"middle","align":"center","angle":270,"color":"black"},"encoding":{"text":{"field":"t"}}},
{"data":{"name":"rhosub"},"mark":{"type":"text","font":"DejaVu Serif","fontSize":17,"baseline":"middle","align":"center","angle":270,"color":"black"},"encoding":{"text":{"field":"t"}}},
{"data":{"name":"rhobar"},"mark":{"type":"text","font":"DejaVu Serif","fontSize":28,"baseline":"middle","align":"center","angle":270,"color":"black"},"encoding":{"text":{"field":"t"}}}
]
}
